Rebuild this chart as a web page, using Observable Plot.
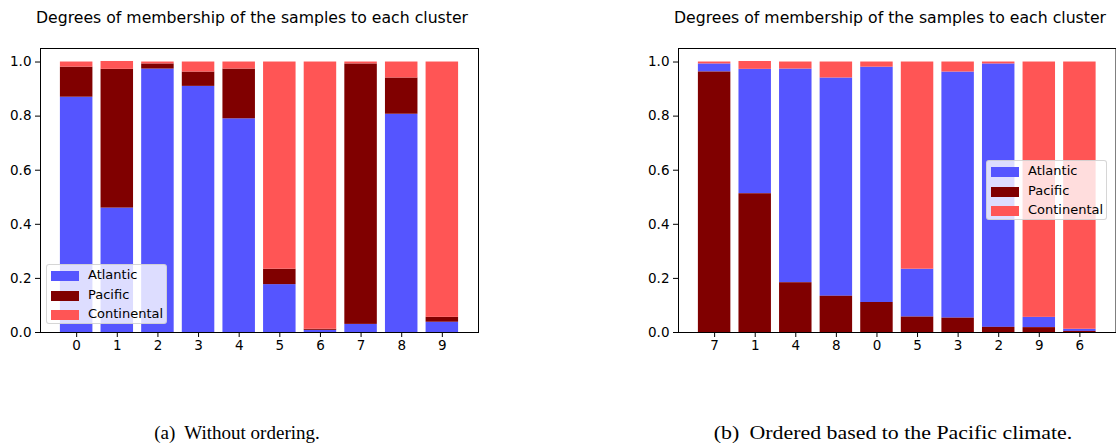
<!DOCTYPE html>
<html>
<head>
<meta charset="utf-8">
<script src="https://cdn.jsdelivr.net/npm/d3@7"></script>
<script src="https://cdn.jsdelivr.net/npm/@observablehq/plot@0.6"></script>
<style>
  html, body { margin: 0; padding: 0; background: #fff; }
  #page { position: relative; width: 1116px; height: 447px; overflow: hidden; font-family: "DejaVu Sans", sans-serif; }
  .chart { position: absolute; top: 0; }
  .title { position: absolute; top: 8px; font-size: 15.7px; white-space: nowrap; transform: translateX(-50%); color: #000; }
  .caption { position: absolute; top: 422px; font-family: "Liberation Serif", "Times New Roman", serif; font-size: 19px; white-space: nowrap; transform: translateX(-50%); color: #000; }
  .caption.wide { transform: translateX(-50%) scaleX(1.15); }
  .legend { position: absolute; width: 121px; height: 60px; background: rgba(255,255,255,0.8); border: 1px solid rgba(204,204,204,0.8); border-radius: 3px; box-sizing: border-box; font-size: 13px; }
  .legend .row { position: absolute; left: 4px; height: 16px; width: 115px; }
  .legend .sw { position: absolute; left: 0; top: 3px; width: 28px; height: 10px; }
  .legend .lb { position: absolute; left: 37px; top: -1px; line-height: 16px; white-space: nowrap; }
</style>
</head>
<body>
<div id="page"></div>
<script>
// ---- data ----
const samples = ["0", "1", "2", "3", "4", "5", "6", "7", "8", "9"];
const atlantic    = [0.870, 0.460, 0.974, 0.910, 0.790, 0.177, 0.008, 0.030, 0.807, 0.038];
const pacific     = [0.111, 0.513, 0.019, 0.053, 0.184, 0.057, 0.004, 0.963, 0.134, 0.018];
const continental = [0.019, 0.029, 0.007, 0.037, 0.026, 0.766, 0.988, 0.007, 0.059, 0.944];
const seriesNames = ["Atlantic", "Pacific", "Continental"];
const seriesColors = ["#5555ff", "#800000", "#ff5555"];
const orderA = ["0", "1", "2", "3", "4", "5", "6", "7", "8", "9"];
const orderB = ["7", "1", "4", "8", "0", "5", "3", "2", "9", "6"];
const yTicks = [0, 0.2, 0.4, 0.6, 0.8, 1.0];
const titleText = "Degrees of membership of the samples to each cluster";
const captionA = ["(a)", "Without ordering."];
const captionB = ["(b)", "Ordered based to the Pacific climate."];

const valuesBySeries = { Atlantic: atlantic, Pacific: pacific, Continental: continental };
const rows = [];
seriesNames.forEach(s => samples.forEach((k, i) => rows.push({ sample: k, series: s, value: valuesBySeries[s][i] })));

const page = document.getElementById("page");

function chart(domain, stackOrder, left, width, marginRight) {
  const p = Plot.plot({
    width, height: 360,
    marginLeft: 40, marginRight, marginTop: 48, marginBottom: 28,
    style: { fontFamily: "DejaVu Sans", fontSize: "13.5px", color: "black", background: "transparent", overflow: "visible" },
    x: { type: "band", domain, paddingInner: 0.2, paddingOuter: 0.49, align: 0.5, round: false, label: null },
    y: { domain: [0, 1.05], label: null },
    color: { domain: seriesNames, range: seriesColors },
    marks: [
      Plot.barY(rows, { x: "sample", y: "value", z: "series", fill: "series", order: stackOrder }),
      Plot.axisY({ ticks: yTicks, tickFormat: d3.format(".1f"), tickSize: 5, tickPadding: 4, label: null, stroke: "black", fill: "black" }),
      Plot.axisX({ tickSize: 5, tickPadding: 3, label: null, stroke: "black", fill: "black" }),
      Plot.frame({ stroke: "black", strokeWidth: 1 })
    ]
  });
  p.classList.add("chart");
  p.style.left = left + "px";
  page.appendChild(p);
}

function legend(left, top) {
  const box = document.createElement("div");
  box.className = "legend";
  box.style.left = left + "px";
  box.style.top = top + "px";
  seriesNames.forEach((s, i) => {
    const r = document.createElement("div");
    r.className = "row";
    r.style.top = (3 + i * 19.5) + "px";
    const sw = document.createElement("div");
    sw.className = "sw";
    sw.style.background = seriesColors[i];
    const lb = document.createElement("div");
    lb.className = "lb";
    lb.textContent = s;
    r.appendChild(sw); r.appendChild(lb);
    box.appendChild(r);
  });
  page.appendChild(box);
}

function text(cls, content, cx) {
  const d = document.createElement("div");
  d.className = cls;
  d.style.left = cx + "px";
  if (Array.isArray(content)) {
    const a = document.createElement("span");
    a.textContent = content[0];
    a.style.marginRight = "9px";
    d.appendChild(a);
    d.appendChild(document.createTextNode(content[1]));
  } else d.textContent = content;
  page.appendChild(d);
}

chart(orderA, ["Atlantic", "Pacific", "Continental"], 0, 479, 1);
chart(orderB, ["Pacific", "Atlantic", "Continental"], 638, 478, 0.5);
legend(46, 264);
legend(986, 160);
text("title", titleText, 252);
text("title", titleText, 890);
text("caption", captionA, 237);
text("caption wide", captionB, 893);
</script>
</body>
</html>
